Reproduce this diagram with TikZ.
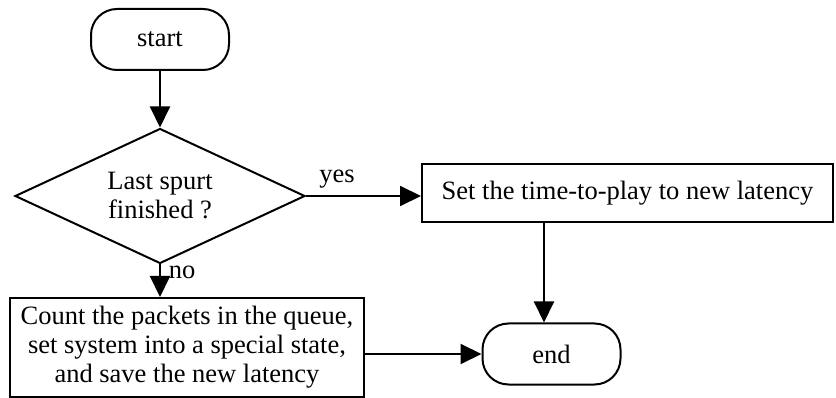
\documentclass[tikz,border=0pt]{standalone}
\usepackage{fontspec}
\setmainfont{Liberation Serif}
\usetikzlibrary{shapes.geometric,arrows.meta}
\begin{document}
\begin{tikzpicture}[x=1pt,y=-1pt,line width=2pt,
  every node/.style={font=\fontsize{26.5}{29}\selectfont},
  term/.style={draw,rectangle,rounded corners=26pt,minimum width=138pt,minimum height=61pt,inner sep=0pt},
  proc/.style={draw,rectangle,inner sep=0pt,align=center},
  dec/.style={draw,diamond,aspect=2.15,minimum width=290pt,minimum height=135pt,inner sep=0pt,align=center},
  arr/.style={-{Triangle[length=21pt,width=20pt]}},
  lbl/.style={inner sep=0pt}]
\useasboundingbox (0,0) rectangle (836,398);
\node[term] (st) at (160,39.5) {start};
\node[dec] (d) at (160,196) {Last spurt\\finished ?};
\node[proc,minimum width=411pt,minimum height=58pt] (s) at (627.5,193) {Set the time-to-play to new latency};
\node[proc,minimum width=354pt,minimum height=99pt] (c) at (187,347.5) {Count the packets in the queue,\\set system into a special state,\\and save the new latency};
\node[term] (e) at (551.5,354) {end};
\node[lbl] (yes) at (337,179) {yes};
\node[lbl] (no) at (182,272) {no};
\coordinate (k) at (544,0);
\draw[arr] (st.south) -- (d.north);
\draw[arr] (d.east) -- (d.east -| s.west);
\draw[arr] (d.south) -- (d.south |- c.north);
\draw[arr] (s.south -| k) -- (e.north -| k);
\draw[arr] (c.east |- e.west) -- (e.west);
\end{tikzpicture}
\end{document}
